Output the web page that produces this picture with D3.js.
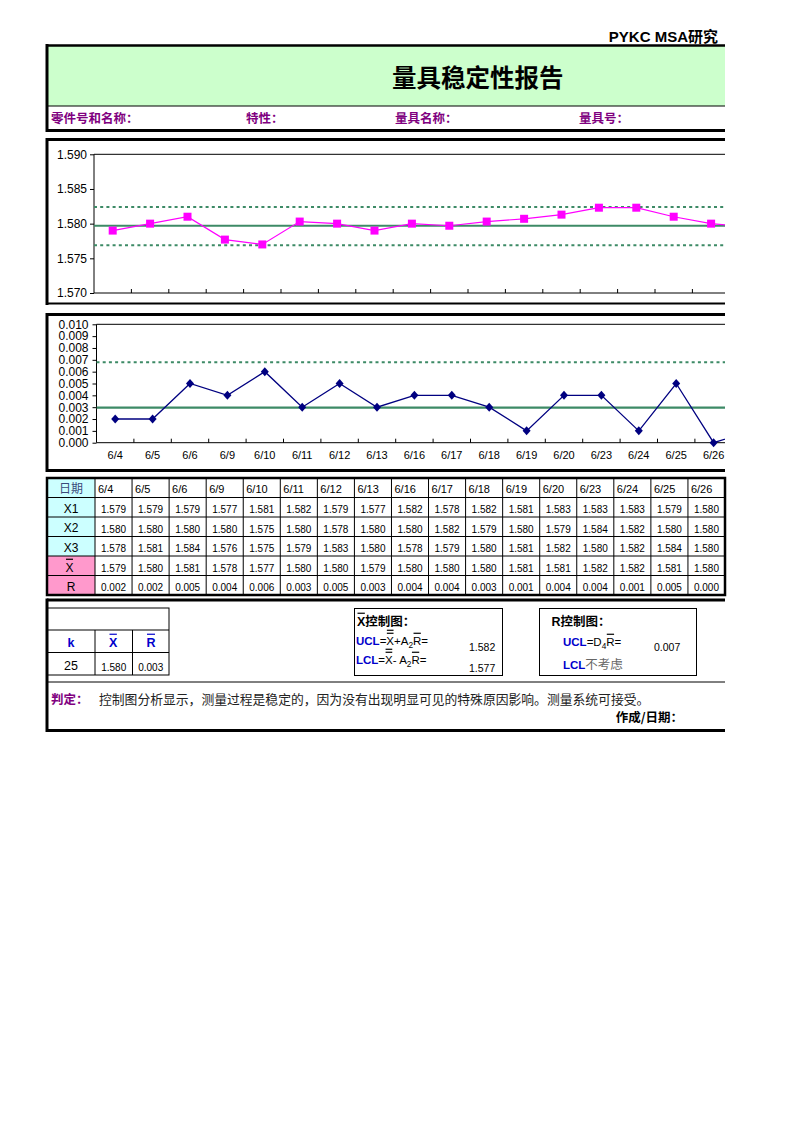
<!DOCTYPE html>
<html><head><meta charset="utf-8">
<script src="https://cdn.jsdelivr.net/npm/d3@7"></script>
<style>
body{margin:0;background:#fff}
svg{display:block}
text{font-family:"Liberation Sans",Arial,"Noto Sans CJK SC",sans-serif}
.cjk{font-family:"Noto Sans CJK SC","Liberation Sans",sans-serif}
</style>
</head><body>
<svg id="c" width="793" height="1122"></svg>
<script>
// ---------------- DATA ----------------
const dates = ["6/4","6/5","6/6","6/9","6/10","6/11","6/12","6/13","6/16","6/17","6/18","6/19","6/20","6/23","6/24","6/25","6/26"];
// chart continues past the visible right edge (next point partly visible)
const chartDates = dates.concat(["6/27"]);
const xbarPlot = [1.5790,1.5800,1.5810,1.5777,1.5770,1.5803,1.5800,1.5790,1.5800,1.5797,1.5803,1.5807,1.5813,1.5823,1.5823,1.5810,1.5800,1.5795];
const rangePlot = [0.002,0.002,0.005,0.004,0.006,0.003,0.005,0.003,0.004,0.004,0.003,0.001,0.004,0.004,0.001,0.005,0.000,0.001];
const xbarLimits = {ucl:1.5824, cl:1.5797, lcl:1.5769};
const rLimits = {ucl:0.0068, cl:0.00297};
const yTicks1 = [1.570,1.575,1.580,1.585,1.590];
const yTicks2 = [0,0.001,0.002,0.003,0.004,0.005,0.006,0.007,0.008,0.009,0.010];
const rowX1 = ["1.579","1.579","1.579","1.577","1.581","1.582","1.579","1.577","1.582","1.578","1.582","1.581","1.583","1.583","1.583","1.579","1.580"];
const rowX2 = ["1.580","1.580","1.580","1.580","1.575","1.580","1.578","1.580","1.580","1.582","1.579","1.580","1.579","1.584","1.582","1.580","1.580"];
const rowX3 = ["1.578","1.581","1.584","1.576","1.575","1.579","1.583","1.580","1.578","1.579","1.580","1.581","1.582","1.580","1.582","1.584","1.580"];
const rowXbar = ["1.579","1.580","1.581","1.578","1.577","1.580","1.580","1.579","1.580","1.580","1.580","1.581","1.581","1.582","1.582","1.581","1.580"];
const rowR = ["0.002","0.002","0.005","0.004","0.006","0.003","0.005","0.003","0.004","0.004","0.003","0.001","0.004","0.004","0.001","0.005","0.000"];
const summary = {k:"25", xbarbar:"1.580", rbar:"0.003", xucl:"1.582", xlcl:"1.577", rucl:"0.007"};
const conclusion = "控制图分析显示，测量过程是稳定的，因为没有出现明显可见的特殊原因影响。测量系统可接受。";

// ---------------- DRAW ----------------
const svg = d3.select("#c");
const L = 47, R = 725;
const GREEN = "#3d8a66", PURPLE = "#800080", BLUE = "#0000cc";

function hline(y, w, x1=L, x2=R){ svg.append("line").attr("x1",x1).attr("x2",x2).attr("y1",y).attr("y2",y).attr("stroke","#000").attr("stroke-width",w); }
function vline(x, y1, y2, w){ svg.append("line").attr("x1",x).attr("x2",x).attr("y1",y1).attr("y2",y2).attr("stroke","#000").attr("stroke-width",w); }
function txt(g, x, y, s, size, opts={}) {
  return g.append("text").attr("x",x).attr("y",y).attr("font-size",size)
    .attr("font-weight",opts.bold?"bold":"normal").attr("fill",opts.color||"#000")
    .attr("text-anchor",opts.anchor||"start").attr("class",opts.cjk?"cjk":null).text(s);
}
function rich(g, x, y, parts) {
  let cx = x;
  parts.forEach(p => {
    const size = p.size || 11;
    const fs = p.sub ? size*0.72 : size;
    const t = g.append("text").attr("x",cx).attr("y", y + (p.sub?3:0)).attr("font-size",fs)
      .attr("font-weight",p.bold?"bold":"normal").attr("fill",p.color||"#000")
      .attr("class",p.cjk?"cjk":null).text(p.t);
    const w = t.node().getComputedTextLength();
    for (let i=0;i<(p.over||0);i++){
      const oy = y - size*1.02 - i*3;
      g.append("line").attr("x1",cx+0.5).attr("x2",cx+w-0.5).attr("y1",oy).attr("y2",oy).attr("stroke",p.color||"#000").attr("stroke-width",1.2);
    }
    cx += w + (p.gap||0);
  });
  return cx;
}

// header
txt(svg, 718, 42, "PYKC MSA研究", 15, {bold:true, anchor:"end"});
svg.append("rect").attr("x",L).attr("y",45).attr("width",R-L).attr("height",61).attr("fill","#ccffcc");
hline(45.5, 2.5); hline(106, 1); hline(130.5, 3);
vline(L, 44, 132, 3);
txt(svg, 392, 87, "量具稳定性报告", 24.5, {bold:true, cjk:true});
txt(svg, 51, 123, "零件号和名称：", 12.5, {bold:true, color:PURPLE, cjk:true});
txt(svg, 246, 123, "特性：", 12.5, {bold:true, color:PURPLE, cjk:true});
txt(svg, 395, 123, "量具名称：", 12.5, {bold:true, color:PURPLE, cjk:true});
txt(svg, 579, 123, "量具号：", 12.5, {bold:true, color:PURPLE, cjk:true});

// clip
svg.append("clipPath").attr("id","clip").append("rect").attr("x",0).attr("y",0).attr("width",R).attr("height",1122);

// ---- chart 1 (X-bar) ----
hline(139.5, 3); vline(L, 138, 305, 3); hline(303.5, 2);
const c1 = {left:94, top:154.3, bottom:293};
const step = 37.4;
const x1 = d3.scaleBand().domain(chartDates).range([c1.left, c1.left + step*chartDates.length]);
const y1 = d3.scaleLinear().domain([1.570,1.590]).range([c1.bottom, c1.top]);
const g1 = svg.append("g").attr("clip-path","url(#clip)");
g1.append("line").attr("x1",c1.left).attr("x2",R).attr("y1",c1.top).attr("y2",c1.top).attr("stroke","#000");
g1.append("line").attr("x1",c1.left).attr("x2",R).attr("y1",c1.bottom).attr("y2",c1.bottom).attr("stroke","#000");
g1.append("line").attr("x1",c1.left).attr("x2",c1.left).attr("y1",c1.top).attr("y2",c1.bottom).attr("stroke","#000");
g1.selectAll(".xt").data(chartDates.slice(1)).join("line").attr("x1",d=>x1(d)).attr("x2",d=>x1(d))
  .attr("y1",c1.bottom).attr("y2",c1.bottom-4).attr("stroke","#000");
const ax1 = svg.append("g").attr("transform",`translate(${c1.left},0)`)
  .call(d3.axisLeft(y1).tickValues(yTicks1).tickSize(4).tickPadding(3).tickFormat(d3.format(".3f")));
ax1.select(".domain").remove();
ax1.selectAll("text").attr("font-size",12).attr("font-family","Liberation Sans, Arial").attr("fill","#000");
ax1.selectAll("line").attr("stroke","#000");
[["ucl","3,3.2"],["lcl","3,3.2"],["cl",null]].forEach(([k,dash])=>{
  g1.append("line").attr("x1",c1.left).attr("x2",R).attr("y1",y1(xbarLimits[k])).attr("y2",y1(xbarLimits[k]))
    .attr("stroke",GREEN).attr("stroke-width", dash?2:2.2).attr("stroke-dasharray",dash);
});
g1.append("path").datum(xbarPlot).attr("fill","none").attr("stroke","#ff00ff").attr("stroke-width",1.2)
  .attr("d", d3.line().x((d,i)=>x1(chartDates[i])+x1.bandwidth()/2).y(d=>y1(d)));
g1.selectAll(".sq").data(xbarPlot.slice(0,dates.length)).join("rect")
  .attr("x",(d,i)=>x1(chartDates[i])+x1.bandwidth()/2-4).attr("y",d=>y1(d)-4)
  .attr("width",8).attr("height",8).attr("fill","#ff00ff");

// ---- chart 2 (R) ----
hline(314.5, 3); vline(L, 313, 472, 3); hline(470.5, 3);
const c2 = {left:96.5, top:324.3, bottom:442.7};
const x2 = d3.scaleBand().domain(chartDates).range([c2.left, c2.left + step*chartDates.length]);
const y2 = d3.scaleLinear().domain([0,0.010]).range([c2.bottom, c2.top]);
const g2 = svg.append("g").attr("clip-path","url(#clip)");
g2.append("line").attr("x1",c2.left).attr("x2",R).attr("y1",c2.top).attr("y2",c2.top).attr("stroke","#000");
g2.append("line").attr("x1",c2.left).attr("x2",R).attr("y1",c2.bottom).attr("y2",c2.bottom).attr("stroke","#000");
g2.append("line").attr("x1",c2.left).attr("x2",c2.left).attr("y1",c2.top).attr("y2",c2.bottom).attr("stroke","#000");
g2.selectAll(".xt").data(chartDates.slice(1)).join("line").attr("x1",d=>x2(d)).attr("x2",d=>x2(d))
  .attr("y1",c2.bottom).attr("y2",c2.bottom-4).attr("stroke","#000");
g2.selectAll(".xl").data(dates).join("text").attr("x",d=>x2(d)+x2.bandwidth()/2).attr("y",459)
  .attr("text-anchor","middle").attr("font-size",11).attr("fill","#000").text(d=>d);
const ax2 = svg.append("g").attr("transform",`translate(${c2.left},0)`)
  .call(d3.axisLeft(y2).tickValues(yTicks2).tickSize(4).tickPadding(4).tickFormat(d3.format(".3f")));
ax2.select(".domain").remove();
ax2.selectAll("text").attr("font-size",12).attr("font-family","Liberation Sans, Arial").attr("fill","#000");
ax2.selectAll("line").attr("stroke","#000");
[["ucl","3,3.2"],["cl",null]].forEach(([k,dash])=>{
  g2.append("line").attr("x1",c2.left).attr("x2",R).attr("y1",y2(rLimits[k])).attr("y2",y2(rLimits[k]))
    .attr("stroke",GREEN).attr("stroke-width", dash?2:2.2).attr("stroke-dasharray",dash);
});
g2.append("path").datum(rangePlot).attr("fill","none").attr("stroke","#000080").attr("stroke-width",1.3)
  .attr("d", d3.line().x((d,i)=>x2(chartDates[i])+x2.bandwidth()/2).y(d=>y2(d)));
g2.selectAll(".dm").data(rangePlot.slice(0,dates.length)).join("path")
  .attr("transform",(d,i)=>`translate(${x2(chartDates[i])+x2.bandwidth()/2},${y2(d)})`)
  .attr("d","M0,-4.5L4,0L0,4.5L-4,0Z").attr("fill","#000080");

// ---- data table ----
const tTop = 478, rowH = 19.5, col0 = 95, colW = (R - col0)/dates.length;
const rowLabels = ["日期","X1","X2","X3","X̄","R"];
const rowFill = ["#ccffff","#ccffff","#ccffff","#ccffff","#ff99cc","#ff99cc"];
const rows = [dates, rowX1, rowX2, rowX3, rowXbar, rowR];
const tg = svg.append("g");
rows.forEach((r,ri)=>{
  const y = tTop + ri*rowH;
  tg.append("rect").attr("x",L).attr("y",y).attr("width",col0-L).attr("height",rowH).attr("fill",rowFill[ri]);
  if (ri===4) {
    rich(tg, 65.5, y+rowH-4, [{t:"X", size:12, over:1}]);
  } else {
    txt(tg, 71, y+rowH-4.5, rowLabels[ri], 12, {anchor:"middle", color: ri===0?"#3a4a7a":"#000", cjk: ri===0});
  }
  r.forEach((v,ci)=>{
    const cx = col0 + ci*colW;
    if (ri===0) txt(tg, cx+3, y+rowH-5, v, 11);
    else txt(tg, cx+colW/2, y+rowH-4, v, 10, {anchor:"middle"});
  });
});
for (let i=1;i<rows.length;i++) hline(tTop+i*rowH, 1);
for (let i=0;i<=dates.length;i++) vline(col0+i*colW, tTop, tTop+rows.length*rowH, i===dates.length?1.5:1);
svg.append("rect").attr("x",L).attr("y",tTop).attr("width",R-L).attr("height",rows.length*rowH)
  .attr("fill","none").attr("stroke","#000").attr("stroke-width",2.5);

// ---- summary section ----
hline(600, 3); vline(L, 598.5, 732, 3); hline(730.5, 3); hline(682, 1);
const sg = svg.append("g");
sg.append("rect").attr("x",L).attr("y",608).attr("width",169-L).attr("height",67).attr("fill","none").attr("stroke","#000");
hline(630, 1, L, 169); hline(652.5, 1, L, 169);
vline(95, 630, 675, 1); vline(132.5, 630, 675, 1);
txt(sg, 71, 647, "k", 12.5, {bold:true, color:BLUE, anchor:"middle"});
rich(sg, 109, 647, [{t:"X", size:12.5, bold:true, color:BLUE, over:1}]);
rich(sg, 146.5, 647, [{t:"R", size:12.5, bold:true, color:BLUE, over:1}]);
txt(sg, 71, 670, summary.k, 12.5, {anchor:"middle"});
txt(sg, 113.7, 671, summary.xbarbar, 10, {anchor:"middle"});
txt(sg, 150.7, 671, summary.rbar, 10, {anchor:"middle"});

// X chart box
sg.append("rect").attr("x",354.5).attr("y",608.5).attr("width",148).attr("height",67).attr("fill","none").attr("stroke","#000");
rich(sg, 357, 626, [{t:"X", size:12.5, bold:true, over:1},{t:"控制图：", size:12.5, bold:true, cjk:true}]);
rich(sg, 356, 645, [{t:"UCL", size:11.5, bold:true, color:BLUE},{t:"=", size:11.5},{t:"X", size:11.5, over:2},{t:"+A", size:11.5},{t:"2", size:11.5, sub:true},{t:"R", size:11.5, over:1},{t:"=", size:11.5}]);
rich(sg, 356, 664, [{t:"LCL", size:11.5, bold:true, color:BLUE},{t:"=", size:11.5},{t:"X", size:11.5, over:2},{t:"- A", size:11.5},{t:"2", size:11.5, sub:true},{t:"R", size:11.5, over:1},{t:"=", size:11.5}]);
txt(sg, 469, 651, summary.xucl, 10.5);
txt(sg, 469, 672, summary.xlcl, 10.5);

// R chart box
sg.append("rect").attr("x",539.5).attr("y",608.5).attr("width",157).attr("height",67).attr("fill","none").attr("stroke","#000");
rich(sg, 551.5, 626, [{t:"R", size:12.5, bold:true},{t:"控制图：", size:12.5, bold:true, cjk:true}]);
rich(sg, 563, 646, [{t:"UCL", size:11.5, bold:true, color:BLUE},{t:"=D", size:11.5},{t:"4", size:11.5, sub:true},{t:"R", size:11.5, over:1},{t:"=", size:11.5}]);
txt(sg, 654, 651, summary.rucl, 10.5);
rich(sg, 563, 669, [{t:"LCL", size:11.5, bold:true, color:BLUE},{t:"不考虑", size:12.5, color:"#666", cjk:true}]);

txt(sg, 51, 704, "判定：", 12.5, {bold:true, color:PURPLE, cjk:true});
txt(sg, 99, 704, conclusion, 12.8, {color:"#222", cjk:true});
txt(sg, 683, 722, "作成/日期：", 12.5, {bold:true, anchor:"end", cjk:true});
</script>
</body></html>
